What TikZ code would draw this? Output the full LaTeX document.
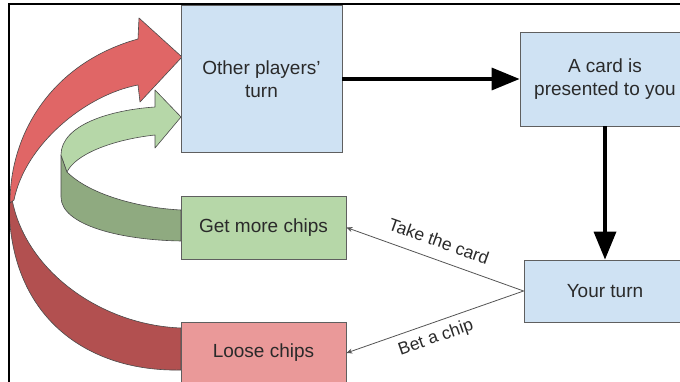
\documentclass[tikz,border=0pt]{standalone}
\usepackage{fontspec}
\setmainfont{Liberation Sans}
\usetikzlibrary{arrows.meta}

\definecolor{boxblue}{HTML}{CFE2F3}
\definecolor{boxgreen}{HTML}{B6D7A8}
\definecolor{boxpink}{HTML}{EA9999}
\definecolor{boxline}{HTML}{5F5F5F}
\definecolor{txtcol}{HTML}{2A2A2A}
\definecolor{redlight}{HTML}{E06666}
\definecolor{reddark}{HTML}{B25050}
\definecolor{greenlight}{HTML}{B6D7A8}
\definecolor{greendark}{HTML}{8FAA80}
\definecolor{ribbonline}{HTML}{4A4A4A}
\definecolor{thinline}{HTML}{555555}

\tikzset{
  box/.style={draw=boxline, line width=0.8pt, inner sep=0pt, align=center,
    text=txtcol, font=\fontsize{19}{23}\selectfont},
  ribbon/.style={draw=ribbonline, line width=0.6pt, line join=round},
  mainflow/.style={line width=3.5pt, -{Triangle[length=28pt,width=22pt]}},
  choice/.style={draw=thinline, line width=0.8pt, -{Stealth[length=6pt,width=5pt]}},
  lbl/.style={text=txtcol, inner sep=0pt, font=\fontsize{17.5}{20}\selectfont}
}

\begin{document}
\begin{tikzpicture}[x=1pt,y=-1pt]
\useasboundingbox (0,0) rectangle (680,382);
\fill[white] (0,0) rectangle (680,382);

% green ribbon: back face, then front face with its head
\filldraw[ribbon, fill=greendark]
  (61,155) -- (67,172) .. controls (90,195) and (140,208) .. (181,210)
  -- (181,241) .. controls (120,240) and (61,225) .. (61,197) -- cycle;
\filldraw[ribbon, fill=greenlight]
  (61,155) .. controls (61,125) and (110,110) .. (155,107)
  -- (155,90) -- (181,117) -- (155,148) -- (155,135)
  .. controls (110,140) and (75,155) .. (67,172) -- cycle;

% red ribbon: back face, then front face with its head
\filldraw[ribbon, fill=reddark]
  (12,199) .. controls (25,270) and (100,325) .. (181,328)
  -- (181,370) .. controls (90,372) and (10,320) .. (9,205) -- cycle;
\filldraw[ribbon, fill=redlight]
  (10,203) .. controls (10,130) and (55,62) .. (138,39)
  -- (139,18) -- (182,57) -- (140,102) -- (138,85)
  .. controls (85,95) and (25,145) .. (14,200) -- cycle;

% frame
\draw[line width=1.5pt] (9,382) -- (9,4) -- (680,4);

% boxes
\node[box, fill=boxblue, minimum width=161pt, minimum height=147pt] (op)
  at (261.5,79) {Other players'\\turn};
\node[box, fill=boxblue, minimum width=170pt, minimum height=94pt] (card)
  at (605,79) {A card is\\presented to you};
\node[box, fill=boxblue, minimum width=162pt, minimum height=62pt] (yt)
  at (605,291) {Your turn};
\node[box, fill=boxgreen, minimum width=165pt, minimum height=63pt] (gm)
  at (263.5,227.5) {Get more chips};
\node[box, fill=boxpink, minimum width=165pt, minimum height=62pt] (lc)
  at (263.5,353) {Loose chips};

% connectors
\draw[mainflow] (op.east) -- (card.west);
\draw[mainflow] (card.south) -- (yt.north);
\draw[choice] (yt.west) -- (gm.east);
\draw[choice] (yt.west) -- (lc.east);

% connector labels
\node[lbl, rotate=-19.6] (take) at (439,241) {Take the card};
\node[lbl, rotate=19.2] (bet) at (436,338) {Bet a chip};
\end{tikzpicture}
\end{document}
